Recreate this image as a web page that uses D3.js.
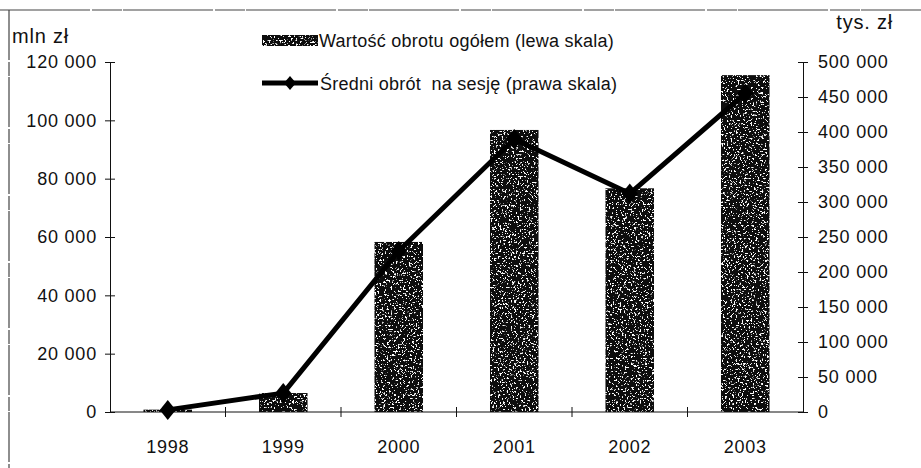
<!DOCTYPE html>
<html>
<head>
<meta charset="utf-8">
<script src="https://cdn.jsdelivr.net/npm/d3@7"></script>
<style>
  body { margin: 0; background: #fff; }
  svg { display: block; }
  text { font-family: "Liberation Sans", Arial, sans-serif; fill: #111; }
</style>
</head>
<body>
<script>
// Data
const years = ["1998", "1999", "2000", "2001", "2002", "2003"];
const turnover = [800, 6500, 58300, 96700, 76700, 115500];          // mln zł, left scale
const perSession = [3000, 27000, 230000, 390000, 312000, 455000];   // tys. zł, right scale
const leftTicks = [0, 20000, 40000, 60000, 80000, 100000, 120000];
const rightTicks = [0, 50000, 100000, 150000, 200000, 250000, 300000, 350000, 400000, 450000, 500000];

const width = 921, height = 468;
const margin = {left: 110, right: 118, top: 62, bottom: 56};

const svg = d3.select("body").append("svg")
  .attr("width", width)
  .attr("height", height);

const fmt = d3.formatLocale({decimal: ",", thousands: " ", grouping: [3], currency: ["", ""]}).format(",");

// Speckled grey fill like the scanned bars
const defs = svg.append("defs");
const grain = defs.append("filter")
  .attr("id", "grain")
  .attr("x", 0).attr("y", 0).attr("width", 1).attr("height", 1);
grain.append("feTurbulence")
  .attr("type", "fractalNoise")
  .attr("baseFrequency", 0.55)
  .attr("numOctaves", 2)
  .attr("seed", 7)
  .attr("result", "noise");
grain.append("feColorMatrix")
  .attr("in", "noise")
  .attr("type", "matrix")
  .attr("values", "0 0 0 0 1  0 0 0 0 1  0 0 0 0 1  16 0 0 0 -9.6")
  .attr("result", "white");
grain.append("feComposite")
  .attr("in", "white")
  .attr("in2", "SourceGraphic")
  .attr("operator", "in")
  .attr("result", "spots");
const merge = grain.append("feMerge");
merge.append("feMergeNode").attr("in", "SourceGraphic");
merge.append("feMergeNode").attr("in", "spots");

// Scales
const x = d3.scaleBand()
  .domain(years)
  .range([margin.left, width - margin.right])
  .paddingInner(0.58)
  .paddingOuter(0.29);
const xStep = d3.scaleBand().domain(years).range([margin.left, width - margin.right]);
const yLeft = d3.scaleLinear().domain([0, 120000]).range([height - margin.bottom, margin.top]);
const yRight = d3.scaleLinear().domain([0, 500000]).range([height - margin.bottom, margin.top]);

// Frame of the scanned page (top and left edge)
svg.append("line")
  .attr("x1", 0).attr("x2", width)
  .attr("y1", 10).attr("y2", 10)
  .style("stroke", "#444").style("stroke-width", 1.2)
  .style("stroke-dasharray", "90 2 30 1");
svg.append("line")
  .attr("x1", 9).attr("x2", 9)
  .attr("y1", 10).attr("y2", height)
  .style("stroke", "#444").style("stroke-width", 1.2)
  .style("stroke-dasharray", "50 2 14 1");

// Bars
svg.append("g")
  .selectAll("rect")
  .data(years)
  .enter()
  .append("rect")
    .attr("x", d => x(d))
    .attr("y", (d, i) => yLeft(turnover[i]))
    .attr("width", x.bandwidth())
    .attr("height", (d, i) => yLeft(0) - yLeft(turnover[i]))
    .style("fill", "#0a0a0a")
    .attr("filter", "url(#grain)");

// Axes
const left = svg.append("g")
  .attr("transform", `translate(${margin.left},0)`)
  .call(d3.axisLeft(yLeft).tickValues(leftTicks).tickFormat(fmt).tickSize(5).tickPadding(8));
left.selectAll(".tick line").attr("x2", 5).attr("x1", -5);

const right = svg.append("g")
  .attr("transform", `translate(${width - margin.right},0)`)
  .call(d3.axisRight(yRight).tickValues(rightTicks).tickFormat(fmt).tickSize(5).tickPadding(10));
right.selectAll(".tick line").attr("x1", -5).attr("x2", 5);

const bottom = svg.append("g")
  .attr("transform", `translate(0,${height - margin.bottom})`)
  .call(d3.axisBottom(xStep).tickSize(0).tickPadding(28));
bottom.select(".domain").remove();

// category separators on the x axis
svg.append("line")
  .attr("x1", margin.left).attr("x2", width - margin.right)
  .attr("y1", yLeft(0)).attr("y2", yLeft(0))
  .style("stroke", "#111");
svg.append("g")
  .selectAll("line")
  .data(years.slice(1))
  .enter()
  .append("line")
    .attr("x1", d => xStep(d)).attr("x2", d => xStep(d))
    .attr("y1", yLeft(0) - 5).attr("y2", yLeft(0) + 5)
    .style("stroke", "#111");

[left, right, bottom].forEach(g => {
  g.attr("font-size", 18).attr("font-family", null);
  g.selectAll(".domain").style("stroke", "#111");
  g.selectAll(".tick line").style("stroke", "#111");
  g.selectAll("text").style("letter-spacing", "0.8px").style("fill", "#111");
});

// Line with diamond markers (right scale)
const cx = d => x(d) + x.bandwidth() / 2;
const line = d3.line()
  .x(d => cx(d))
  .y((d, i) => yRight(perSession[i]));

svg.append("path")
  .datum(years)
  .attr("d", line)
  .style("fill", "none")
  .style("stroke", "#000")
  .style("stroke-width", 5)
  .style("stroke-linejoin", "round");

const diamond = (w, h) => `M0,${-h}L${w},0L0,${h}L${-w},0Z`;
svg.append("g")
  .selectAll("path")
  .data(years)
  .enter()
  .append("path")
    .attr("d", diamond(8, 10))
    .attr("transform", (d, i) => `translate(${cx(d)},${yRight(perSession[i])})`)
    .style("fill", "#000");

// Axis titles
svg.append("text")
  .attr("x", 12).attr("y", 43)
  .style("font-size", "20px")
  .style("letter-spacing", "0.8px")
  .text("mln zł");
svg.append("text")
  .attr("x", 893).attr("y", 29)
  .attr("text-anchor", "end")
  .style("font-size", "20px")
  .style("letter-spacing", "0.8px")
  .text("tys. zł");

// Legend
svg.append("rect")
  .attr("x", 262).attr("y", 35)
  .attr("width", 56).attr("height", 11)
  .style("fill", "#0a0a0a")
  .attr("filter", "url(#grain)");
svg.append("text")
  .attr("x", 319).attr("y", 47)
  .style("font-size", "18px")
  .style("letter-spacing", "0.25px")
  .text("Wartość obrotu ogółem (lewa skala)");

svg.append("line")
  .attr("x1", 262).attr("x2", 318)
  .attr("y1", 83).attr("y2", 83)
  .style("stroke", "#000").style("stroke-width", 5);
svg.append("path")
  .attr("d", diamond(6, 7))
  .attr("transform", "translate(290,83)")
  .style("fill", "#000");
svg.append("text")
  .attr("x", 320).attr("y", 90)
  .attr("xml:space", "preserve")
  .style("white-space", "pre")
  .style("font-size", "18px")
  .style("letter-spacing", "0.25px")
  .text("Średni obrót  na sesję (prawa skala)");
</script>
</body>
</html>
